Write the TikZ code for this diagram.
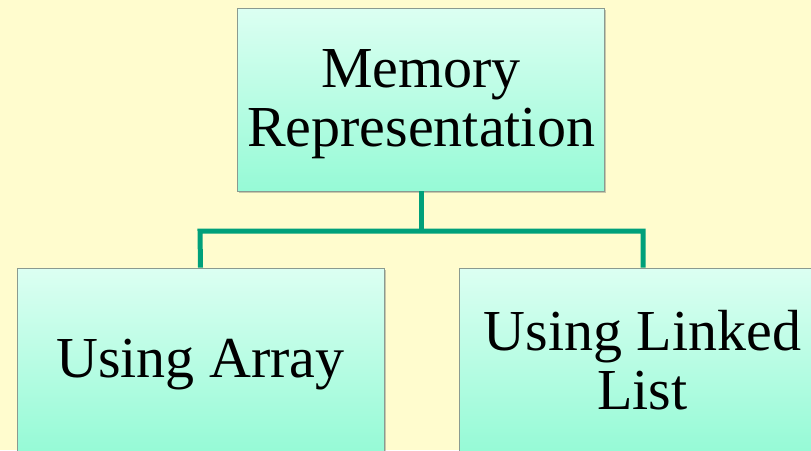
\documentclass[tikz,border=0pt]{standalone}
\usepackage{fontspec}
\setmainfont{Liberation Serif}
\usetikzlibrary{shadows}
\definecolor{paper}{HTML}{FFFCCE}
\definecolor{boxtop}{HTML}{DCFFF2}
\definecolor{boxbottom}{HTML}{96FAD6}
\definecolor{linkgreen}{HTML}{00A07A}
\definecolor{boxedge}{HTML}{8A9A90}
\tikzset{
  topicbox/.style={
    draw=boxedge, line width=0.9pt,
    top color=boxtop, bottom color=boxbottom,
    minimum width=367pt, minimum height=183pt,
    inner sep=0pt,
    drop shadow={shadow xshift=1.5pt, shadow yshift=-2pt, opacity=0.35, fill=black!60}
  },
  % caption set in the middle of a box, nudged slightly down
  caption/.style={align=center, inner sep=0pt,
    font=\fontsize{58}{59}\selectfont, yshift=#1},
  link/.style={draw=linkgreen, line width=5pt}
}
\begin{document}
\begin{tikzpicture}[x=1pt,y=-1pt]
  \fill[paper] (0,0) rectangle (811,450);
  \useasboundingbox (0,0) rectangle (811,450);
  \begin{scope}
    \clip (0,0) rectangle (811,450);
    \coordinate (split) at (421,231);
    \coordinate (leftcorner) at (200,231);
    \coordinate (rightcorner) at (643,231);
    \node[topicbox, label={[caption=-5pt]center:Memory\\Representation}] (mem) at (421,99.5) {};
    \node[topicbox, label={[caption=-5pt]center:Using Array}] (arr) at (200.5,359.5) {};
    \node[topicbox, label={[caption=-1pt]center:Using Linked\\List}] (lst) at (642.5,359.5) {};
    % connectors from the parent box to the two children
    \draw[link] (mem.south) -- (split);
    \draw[link, line join=miter] (arr.north) -- (leftcorner) -- (rightcorner) -- (rightcorner |- lst.north);
  \end{scope}
\end{tikzpicture}
\end{document}
